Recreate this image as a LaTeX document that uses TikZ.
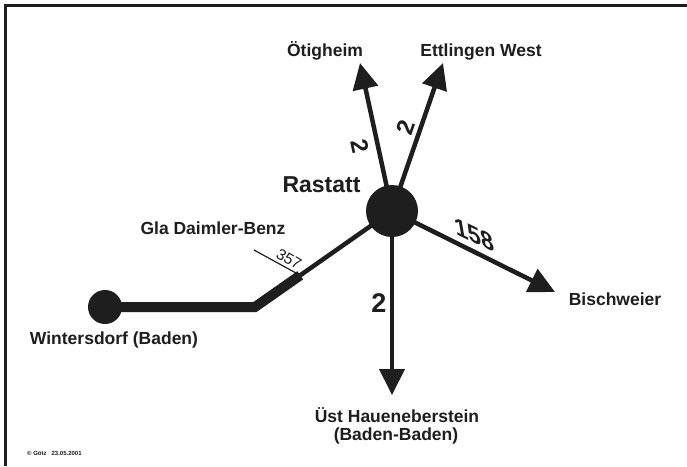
\documentclass[tikz,border=0pt]{standalone}
\usepackage{fontspec}
\setmainfont{Liberation Sans}
\usetikzlibrary{arrows.meta,calc}
\definecolor{ink}{HTML}{1E1E1E}
\begin{document}
\begin{tikzpicture}[x=1pt,y=-1pt,
  lbl/.style={font=\fontsize{17.5}{20}\selectfont\bfseries, text=ink, inner sep=0pt, anchor=base},
  num/.style={font=\fontsize{24}{26}\selectfont\bfseries, text=ink, inner sep=0pt},
  conn/.style={draw=ink, line width=4.5pt},
  arr/.style={conn, -{Triangle[length=26pt,width=25pt]}},
  dot/.style={circle, fill=ink, draw=none, inner sep=0pt}]
\useasboundingbox (0,0) rectangle (687,466);
\fill[white] (0,0) rectangle (687,466);
\draw[ink, line width=3pt] (5.5,466) -- (5.5,5.5) -- (687,5.5);
% centres and ends
\coordinate (rc) at (392,211);
\coordinate (wc) at (105,307);
\coordinate (tO) at (360,63);
\coordinate (tE) at (443,63);
\coordinate (tB) at (555,292);
\coordinate (tU) at (392,395);
\coordinate (bend) at (255,307);
\coordinate (junc) at ($(bend)!0.33!(rc)$);
\coordinate (tk) at (254,250);
% connectors
\draw[arr] (rc) -- (tO);
\draw[arr] (rc) -- (tE);
\draw[arr] (rc) -- (tB);
\draw[arr, line width=4pt] (rc) -- (tU);
\draw[conn] (junc) -- (rc);
\draw[ink, line width=10pt, line join=miter] (wc) -- (bend) -- (junc);
\draw[ink, line width=1.2pt] (tk) -- (junc);
% stations
\node[dot, minimum size=52pt] (ras) at (rc) {};
\node[dot, minimum size=34pt] (win) at (wc) {};
% labels
\node[lbl] (lO) at (325,56) {Ötigheim};
\node[lbl] (lE) at (481,56) {Ettlingen West};
\node[lbl, font=\fontsize{23}{26}\selectfont\bfseries] (lR) at (321.5,192) {Rastatt};
\node[lbl] (lG) at (213,234) {Gla Daimler-Benz};
\node[lbl] (lW) at (114,344) {Wintersdorf (Baden)};
\node[lbl] (lB) at (615,305) {Bischweier};
\node[lbl] (lU1) at (397,422) {Üst Haueneberstein};
\node[lbl] (lU2) at (396,440) {(Baden-Baden)};
\node[font=\fontsize{15.5}{17}\selectfont, text=ink, inner sep=0pt, rotate=-30] (n357) at (289,259) {357};
\node[num, rotate=-78] (nO) at (360,146) {2};
\node[num, rotate=71] (nE) at (406,127) {2};
\node[num, font=\fontsize{26}{28}\selectfont\bfseries, cm={0.899,-0.438,-0.174,0.985,(0,0)}] (nB) at (474,235) {158};
\node[num, font=\fontsize{27}{29}\selectfont\bfseries] (nU) at (379,303) {2};
\node[font=\fontsize{6}{7}\selectfont\bfseries, text=ink, inner sep=0pt, anchor=base west] (cp) at (27,455) {© Götz\ \ \ 23.05.2001};
\end{tikzpicture}
\end{document}
